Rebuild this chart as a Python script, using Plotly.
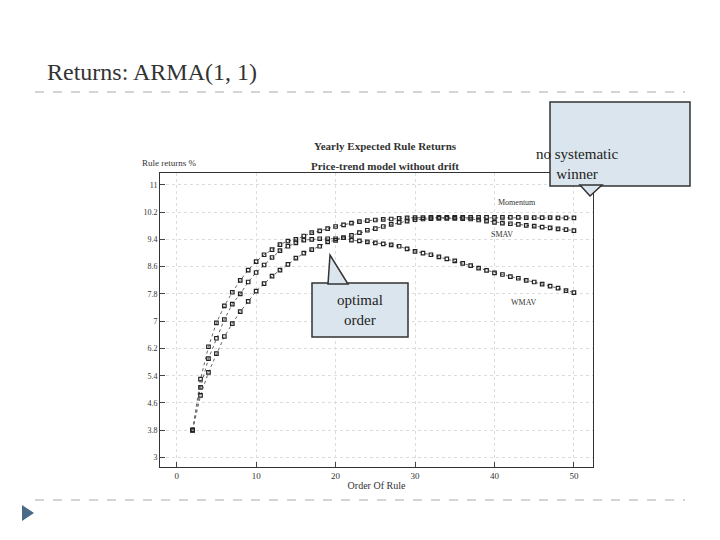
import plotly.graph_objects as go

x = list(range(2, 51))
momentum = [3.8, 5.3, 6.25, 6.95, 7.45, 7.85, 8.2, 8.5, 8.75, 8.95, 9.1, 9.25, 9.35, 9.4, 9.5, 9.6, 9.65, 9.72, 9.78,
            9.83, 9.88, 9.92, 9.95, 9.97, 9.99, 10.0, 10.02, 10.03, 10.04, 10.04, 10.05, 10.05, 10.05, 10.05, 10.05,
            10.05, 10.05, 10.05, 10.05, 10.05, 10.05, 10.05, 10.04, 10.04, 10.04, 10.04, 10.03, 10.03, 10.03]
wmav = [3.8, 5.06, 5.9, 6.5, 7.05, 7.5, 7.8, 8.15, 8.43, 8.65, 8.87, 9.07, 9.2, 9.3, 9.38, 9.4, 9.42, 9.42, 9.42,
        9.45, 9.38, 9.36, 9.33, 9.3, 9.27, 9.24, 9.2, 9.12, 9.05, 9.0, 8.95, 8.89, 8.83, 8.77, 8.7, 8.63, 8.56,
        8.49, 8.42, 8.37, 8.31, 8.26, 8.2, 8.15, 8.09, 8.03, 7.97, 7.9, 7.84]
smav = [3.8, 4.82, 5.5, 6.05, 6.55, 6.93, 7.28, 7.58, 7.88, 8.1, 8.32, 8.5, 8.67, 8.85, 9.0, 9.1, 9.2, 9.33, 9.37,
        9.45, 9.52, 9.6, 9.67, 9.72, 9.78, 9.84, 9.9, 9.94, 9.98, 10.0, 10.01, 10.02, 10.02, 10.02, 10.01, 10.0,
        9.97, 9.94, 9.9, 9.88, 9.86, 9.84, 9.81, 9.79, 9.76, 9.74, 9.71, 9.69, 9.66]
yticks = [3, 3.8, 4.6, 5.4, 6.2, 7, 7.8, 8.6, 9.4, 10.2, 11]
series = [("Momentum", momentum), ("WMAV", wmav), ("SMAV", smav)]

W, H, OFF = 720, 540, 8
def px(v): return (v - OFF) / W
def py(v): return 1 - (v - OFF) / H

fig = go.Figure()
for name, vals in series:
    fig.add_trace(go.Scatter(x=x, y=vals, mode="lines+markers", name=name,
                             line=dict(color="#666", width=1, dash="dot"),
                             marker=dict(symbol="square-open", size=3.5, color="#222", line=dict(width=1.2))))

fig.update_layout(
    width=W, height=H, showlegend=False, paper_bgcolor="white", plot_bgcolor="white",
    margin=dict(l=0, r=0, t=0, b=0),
    xaxis=dict(domain=[px(160), px(593)], range=[-2.1, 52.4], tickvals=[0, 10, 20, 30, 40, 50],
               showgrid=True, gridcolor="#ddd", griddash="dot", showline=True, linecolor="#333", mirror=True,
               ticks="inside", tickfont=dict(family="Liberation Serif", size=9, color="#333"),
               title=dict(text="Order Of Rule", font=dict(family="Liberation Serif", size=10, color="#333"), standoff=2),
               zeroline=False),
    yaxis=dict(domain=[py(467), py(173)], range=[2.72, 11.35], tickvals=yticks,
               ticktext=[str(t) for t in yticks], showgrid=True, gridcolor="#ddd", griddash="dot",
               showline=True, linecolor="#333", mirror=True, ticks="inside", zeroline=False,
               tickfont=dict(family="Liberation Serif", size=8, color="#333")),
)
A = dict(xref="paper", yref="paper", showarrow=False)
fig.add_annotation(x=px(45), y=py(72), text="Returns: ARMA(1, 1)", xanchor="left", yanchor="middle",
                   font=dict(family="Liberation Serif", size=24, color="#333"), **A)
fig.add_annotation(x=px(385), y=py(138), text="<b>Yearly Expected Rule Returns</b>",
                   font=dict(family="Liberation Serif", size=11, color="#333"), **A)
fig.add_annotation(x=px(385), y=py(158), text="<b>Price-trend model without drift</b>",
                   font=dict(family="Liberation Serif", size=11, color="#333"), **A)
fig.add_annotation(x=px(140), y=py(156), text="Rule returns %",
                   font=dict(family="Liberation Serif", size=9, color="#333"), **A)
for t, xx, yy in [("Momentum", 538, 202), ("SMAV", 515, 234), ("WMAV", 538, 302)]:
    fig.add_annotation(x=px(xx), y=py(yy), text=t, font=dict(family="Liberation Serif", size=8, color="#333"), **A)

for yy in [92, 500]:
    fig.add_shape(type="line", xref="paper", yref="paper", x0=px(35), x1=px(685), y0=py(yy), y1=py(yy),
                  line=dict(color="#aaa", width=1, dash="dash"))
fig.add_shape(type="path", xref="paper", yref="paper",
              path=f"M {px(22)} {py(505)} L {px(22)} {py(521)} L {px(34)} {py(513)} Z",
              fillcolor="#4a6a8a", line=dict(width=0))

# callouts
fig.add_shape(type="rect", xref="paper", yref="paper", x0=px(550), x1=px(690), y0=py(102), y1=py(186),
              fillcolor="#dbe5ed", line=dict(color="#333", width=1.5))
fig.add_shape(type="path", xref="paper", yref="paper",
              path=f"M {px(580)} {py(185)} L {px(590)} {py(196)} L {px(602)} {py(185)} Z",
              fillcolor="#dbe5ed", line=dict(color="#333", width=1.5))
fig.add_annotation(x=px(620), y=py(144), text="no systematic<br>winner",
                   font=dict(family="Liberation Serif", size=15, color="#222"), **A)
fig.add_shape(type="rect", xref="paper", yref="paper", x0=px(312), x1=px(408), y0=py(283), y1=py(337),
              fillcolor="#dbe5ed", line=dict(color="#333", width=1.5))
fig.add_shape(type="path", xref="paper", yref="paper",
              path=f"M {px(328)} {py(284)} L {px(330)} {py(255)} L {px(348)} {py(284)} Z",
              fillcolor="#dbe5ed", line=dict(color="#333", width=1.5))
fig.add_annotation(x=px(360), y=py(310), text="optimal<br>order",
                   font=dict(family="Liberation Serif", size=15, color="#222"), **A)

fig.write_html("out.html")
